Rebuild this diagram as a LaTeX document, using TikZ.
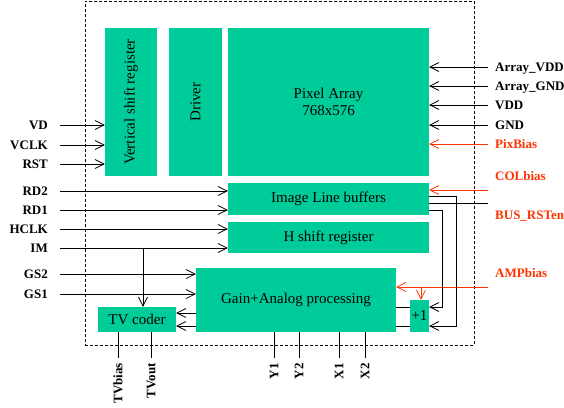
\documentclass[tikz,border=0pt]{standalone}
\usepackage{fontspec}
\setmainfont{Liberation Serif}
\usepackage{graphicx}
\usetikzlibrary{arrows.meta}
\definecolor{boxgreen}{RGB}{0,204,153}
\definecolor{sigred}{RGB}{255,51,0}
\begin{document}
\begin{tikzpicture}[x=1pt,y=-1pt,
  blk/.style={fill=boxgreen, inner sep=0pt, font=\fontsize{15}{17}\selectfont, align=center},
  lbl/.style={font=\bfseries\fontsize{13}{15}\selectfont, inner sep=0pt, text height=8.6pt, text depth=0pt},
  redlbl/.style={lbl, text=sigred},
  arr/.style={-{Straight Barb[length=9pt,width=9pt,line width=0.7pt]}, line width=0.7pt},
  ln/.style={line width=0.7pt},
  chipbox/.style={draw, dash pattern=on 3pt off 2pt, line width=0.6pt, inner sep=0pt, anchor=north west}
]
\useasboundingbox (0,0) rectangle (564,407);

% chip outline
\node[chipbox, minimum width=389pt, minimum height=344pt] (chip) at (85,1) {};

% blocks
\node[blk, minimum width=52pt, minimum height=148pt] (vsr) at (131,102) {\rotatebox{90}{Vertical shift register}};
\node[blk, minimum width=53pt, minimum height=148pt] (drv) at (195.5,102) {\rotatebox{90}{Driver}};
\node[blk, minimum width=201pt, minimum height=148pt] (pa) at (328.5,102) {Pixel Array\\768x576};
\node[blk, minimum width=201pt, minimum height=32pt] (ilb) at (328.5,199) {Image Line buffers};
\node[blk, minimum width=201pt, minimum height=31pt] (hsr) at (328.5,237.5) {H shift register};
\node[blk, minimum width=200pt, minimum height=64pt] (gain) at (296,300) {Gain+Analog processing};
\node[blk, minimum width=19pt, minimum height=32pt] (plus) at (419.5,316) {+1};
\node[blk, minimum width=78pt, minimum height=25pt] (tv) at (137,319.5) {TV coder};

% left inputs
\foreach \n/\t/\y/\tgt in {vd/VD/125/vsr, vclk/VCLK/145/vsr, rst/RST/164/vsr,
                           rdb/RD2/191/ilb, rda/RD1/210/ilb,
                           hclk/HCLK/229/hsr, im/IM/248/hsr,
                           gsb/GS2/274/gain, gsa/GS1/294/gain} {
  \node[lbl, anchor=east] (\n) at (48,\y) {\t};
  \coordinate (\n-s) at (60,\y);
  \draw[arr] (\n-s) -- (\n-s -| \tgt.west);
}
% IM branch to TV coder
\coordinate (imb) at (143,248);
\draw[arr] (imb) -- (imb |- tv.north);

% right inputs to pixel array
\foreach \n/\t/\y in {avdd/Array\_VDD/67, agnd/Array\_GND/86, vdd/VDD/105, gnd/GND/125} {
  \node[lbl, anchor=west] (\n) at (495,\y) {\t};
  \coordinate (\n-s) at (488,\y);
  \draw[arr] (\n-s) -- (\n-s -| pa.east);
}
\node[redlbl, anchor=west] (pix) at (495,144) {PixBias};
\coordinate (pix-s) at (488,144);
\draw[arr, sigred] (pix-s) -- (pix-s -| pa.east);

% COLbias
\node[redlbl, anchor=west] (col) at (495,176) {COLbias};
\coordinate (col-s) at (488,190);
\draw[arr, sigred] (col-s) -- (col-s -| ilb.east);

% BUS_RSTen
\node[redlbl, anchor=west] (bus) at (495,215) {BUS\_RSTen};
\coordinate (bus-s) at (488,203);
\draw[ln] (bus-s -| ilb.east) -- (bus-s);

% AMPbias
\node[redlbl, anchor=west] (amp) at (495,273) {AMPbias};
\coordinate (amp-s) at (488,287);
\draw[arr, sigred] (amp-s) -- (amp-s -| gain.east);
\coordinate (amp-b) at (421,287);
\draw[arr, sigred] (amp-b) -- (amp-b |- plus.north);

% line buffer feedback to +1
\coordinate (k1) at (456,196);
\coordinate (k2) at (442,210);
\coordinate (p1) at (0,326);
\coordinate (p2) at (0,307);
\draw[arr] (k1 -| ilb.east) -- (k1) |- (plus.east |- p1);
\draw[arr] (k2 -| ilb.east) -- (k2) |- (plus.east |- p2);

% gain to +1
\draw[ln] (gain.east |- p1) -- (plus.west |- p1);
\draw[ln] (gain.east |- p2) -- (plus.west |- p2);

% gain to TV coder
\coordinate (q1) at (0,313);
\coordinate (q2) at (0,326);
\draw[arr] (gain.west |- q1) -- (tv.east |- q1);
\draw[arr] (gain.west |- q2) -- (tv.east |- q2);

% bottom outputs
\foreach \n/\t/\x/\src in {tvb/TVbias/118/tv, tvo/TVout/151/tv,
                           ya/Y1/274/gain, yb/Y2/299/gain, xa/X1/339/gain, xb/X2/365/gain} {
  \coordinate (\n-e) at (\x,358);
  \draw[ln] (\n-e |- \src.south) -- (\n-e);
  \node[lbl, rotate=90, anchor=east] (\n) at (\x,363) {\t};
}
\end{tikzpicture}
\end{document}
